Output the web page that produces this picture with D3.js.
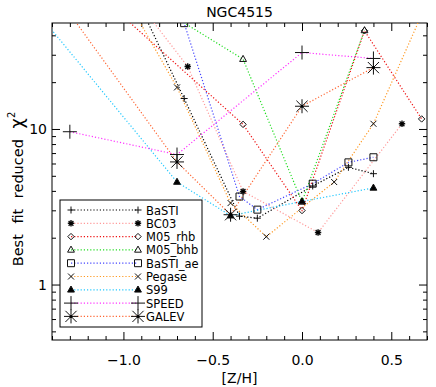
<!DOCTYPE html>
<html>
<head>
<meta charset="utf-8">
<script src="https://cdn.jsdelivr.net/npm/d3@7"></script>
<style>
  body { margin: 0; background: #fff; }
  svg text { font-family: "DejaVu Sans", sans-serif; fill: #000; }
</style>
</head>
<body>
<div id="chart"></div>
<script>
// --- Data (x = [Z/H], y = best fit reduced chi^2) ---
const seriesNames = ["BaSTI", "BC03", "M05_rhb", "M05_bhb", "BaSTI_ae", "Pegase", "S99", "SPEED", "GALEV"];
const seriesColors = ["#000000", "#ff9a9a", "#ee1111", "#22dd22", "#4444ff", "#ff9922", "#22c8ff", "#ff33ff", "#ff6633"];
const seriesSymbols = ["plus", "asterisk", "diamond", "triangle", "square", "cross", "filledTriangle", "bigPlus", "bigAsterisk"];

const bastiZ   = [-0.96, -0.66, -0.35, -0.25, 0.06, 0.26, 0.40];
const bastiChi = [83, 15.7, 2.75, 2.67, 4.3, 5.67, 5.16];
const bc03Z    = [-1.65, -0.64, -0.33, 0.09, 0.56];
const bc03Chi  = [800, 25.2, 3.97, 2.16, 10.8];
const m05rZ    = [-1.35, -0.33, 0.0, 0.35, 0.67];
const m05rChi  = [121, 10.7, 2.99, 42.8, 11.6];
const m05bZ    = [-1.35, -0.33, 0.0, 0.35];
const m05bChi  = [148, 28.1, 3.4, 43];
const bastiAeZ   = [-0.96, -0.66, -0.35, -0.25, 0.06, 0.26, 0.40];
const bastiAeChi = [150, 47.9, 3.68, 3.03, 4.45, 6.1, 6.58];
const pegaseZ   = [-1.7, -0.7, -0.4, -0.2, 0.18, 0.4, 0.7];
const pegaseChi = [1900, 18.5, 3.34, 2.03, 4.56, 10.8, 65];
const s99Z   = [-1.7, -0.7, -0.4, 0.0, 0.4];
const s99Chi = [113, 4.56, 2.77, 3.42, 4.18];
const speedZ   = [-1.3, -0.7, 0.0, 0.4];
const speedChi = [9.6, 6.85, 31, 28.4];
const galevZ   = [-1.7, -0.7, -0.4, 0.0, 0.4];
const galevChi = [237, 6.14, 2.81, 14.0, 24.8];

const seriesZ = [bastiZ, bc03Z, m05rZ, m05bZ, bastiAeZ, pegaseZ, s99Z, speedZ, galevZ];
const seriesChi = [bastiChi, bc03Chi, m05rChi, m05bChi, bastiAeChi, pegaseChi, s99Chi, speedChi, galevChi];

const xMajorTicks = [-1.0, -0.5, 0.0, 0.5];
const xTickLabels = ["\u22121.0", "\u22120.5", "0.0", "0.5"];
const yMajorTicks = [1, 10];
const yTickLabels = ["1", "10"];

// --- Layout ---
const W = 436, H = 387;
const plot = { left: 52, right: 427, top: 23, bottom: 340 };

const x = d3.scaleLinear().domain([-1.4, 0.7]).range([plot.left, plot.right]);
const y = d3.scaleLog().domain([0.44, 48]).range([plot.bottom, plot.top]);

const svg = d3.select("#chart").append("svg")
    .attr("width", W)
    .attr("height", H);

svg.append("clipPath").attr("id", "plotClip")
    .append("rect")
    .attr("x", plot.left).attr("y", plot.top)
    .attr("width", plot.right - plot.left)
    .attr("height", plot.bottom - plot.top);

// minor tick values
const xMinor = d3.range(-14, 8).map(d => d / 10).filter(d => !xMajorTicks.some(m => Math.abs(m - d) < 1e-9));
const yMinor = [];
[0.1, 1, 10].forEach(dec => {
    for (let k = 2; k <= 9; k++) {
        const v = k * dec;
        if (v >= 0.44 && v <= 48) yMinor.push(v);
    }
});

// --- Axes (ticks inward on all four sides) ---
function addAxis(axisFn, scale, tx, ty, values, size, labels) {
    const g = svg.append("g")
        .attr("transform", `translate(${tx},${ty})`)
        .call(axisFn(scale).tickValues(values).tickSize(size).tickSizeOuter(0)
            .tickFormat(labels ? (d, i) => labels[i] : () => ""));
    g.select(".domain").remove();
    g.selectAll(".tick line").attr("stroke", "#000").attr("stroke-width", 1);
    return g;
}

addAxis(d3.axisBottom, x, 0, plot.bottom, xMajorTicks, -8, xTickLabels)
    .selectAll("text").attr("font-size", 14).attr("y", 15);
addAxis(d3.axisBottom, x, 0, plot.bottom, xMinor, -4, null);
addAxis(d3.axisTop, x, 0, plot.top, xMajorTicks, -8, null);
addAxis(d3.axisTop, x, 0, plot.top, xMinor, -4, null);

addAxis(d3.axisLeft, y, plot.left, 0, yMajorTicks, -8, yTickLabels)
    .selectAll("text").attr("font-size", 14).attr("x", -5);
addAxis(d3.axisLeft, y, plot.left, 0, yMinor, -4, null);
addAxis(d3.axisRight, y, plot.right, 0, yMajorTicks, -8, null);
addAxis(d3.axisRight, y, plot.right, 0, yMinor, -4, null);

svg.selectAll(".tick text").attr("fill", "#000").attr("font-family", "DejaVu Sans, sans-serif");

// frame
svg.append("rect")
    .attr("x", plot.left).attr("y", plot.top)
    .attr("width", plot.right - plot.left)
    .attr("height", plot.bottom - plot.top)
    .attr("fill", "none").attr("stroke", "#000").attr("stroke-width", 1);

// --- Titles ---
svg.append("text")
    .attr("x", (plot.left + plot.right) / 2).attr("y", 17)
    .attr("text-anchor", "middle").attr("font-size", 14)
    .text("NGC4515");

svg.append("text")
    .attr("x", (plot.left + plot.right) / 2).attr("y", 383)
    .attr("text-anchor", "middle").attr("font-size", 14)
    .text("[Z/H]");

const yLabel = svg.append("text")
    .attr("transform", "translate(23,189) rotate(-90)")
    .attr("text-anchor", "middle").attr("font-size", 14.5)
    .attr("word-spacing", 6);
yLabel.append("tspan").text("Best fit reduced ");
yLabel.append("tspan").attr("font-size", 18).text("\u03c7");
yLabel.append("tspan").attr("font-size", 10).attr("dy", -8).text("2");

// --- Symbols ---
function symbolPath(kind) {
    let s;
    switch (kind) {
        case "plus": s = 3.5; return `M${-s},0H${s}M0,${-s}V${s}`;
        case "bigPlus": s = 7; return `M${-s},0H${s}M0,${-s}V${s}`;
        case "asterisk": {
            s = 3.2; const d = s * 0.75;
            return `M${-s},0H${s}M0,${-s}V${s}M${-d},${-d}L${d},${d}M${-d},${d}L${d},${-d}`;
        }
        case "bigAsterisk": {
            s = 7; const d = s * 0.8;
            return `M${-s},0H${s}M0,${-s}V${s}M${-d},${-d}L${d},${d}M${-d},${d}L${d},${-d}`;
        }
        case "diamond": s = 3.2; return `M0,${-s}L${s},0L0,${s}L${-s},0Z`;
        case "triangle":
        case "filledTriangle": s = 3.8; return `M0,${-s}L${s * 0.9},${s * 0.6}L${-s * 0.9},${s * 0.6}Z`;
        case "square": s = 3.5; return `M${-s},${-s}H${s}V${s}H${-s}Z`;
        case "cross": s = 3; return `M${-s},${-s}L${s},${s}M${-s},${s}L${s},${-s}`;
    }
}

function drawSymbol(g, kind, px, py) {
    const p = g.append("path")
        .attr("d", symbolPath(kind))
        .attr("transform", `translate(${px},${py})`)
        .attr("stroke", "#111")
        .attr("stroke-width", kind === "asterisk" ? 1.4 : 1)
        .attr("fill", kind === "filledTriangle" ? "#000" : "none");
    if (kind === "asterisk" || kind === "bigAsterisk") {
        g.append("circle").attr("cx", px).attr("cy", py)
            .attr("r", kind === "asterisk" ? 1.6 : 1.5).attr("fill", "#000");
    }
    return p;
}

// --- Series lines and markers ---
const line = d3.line().x(d => x(d[0])).y(d => y(d[1]));
const plotG = svg.append("g").attr("clip-path", "url(#plotClip)");

seriesNames.forEach((name, i) => {
    const pts = seriesZ[i].map((z, k) => [z, seriesChi[i][k]]);
    plotG.append("path")
        .datum(pts)
        .attr("d", line)
        .attr("fill", "none")
        .attr("stroke", seriesColors[i])
        .attr("stroke-width", 1.2)
        .attr("stroke-dasharray", "1.2,2");
});
seriesNames.forEach((name, i) => {
    seriesZ[i].forEach((z, k) => {
        drawSymbol(plotG, seriesSymbols[i], x(z), y(seriesChi[i][k]));
    });
});

// --- Legend ---
const legend = svg.append("g");
legend.append("rect")
    .attr("x", 60).attr("y", 200).attr("width", 142).attr("height", 127)
    .attr("fill", "#fff").attr("stroke", "#000").attr("stroke-width", 1);

seriesNames.forEach((name, i) => {
    const ly = 210 + i * 13.3;
    legend.append("line")
        .attr("x1", 71).attr("x2", 138).attr("y1", ly).attr("y2", ly)
        .attr("stroke", seriesColors[i]).attr("stroke-width", 1.2)
        .attr("stroke-dasharray", "1.2,2");
    drawSymbol(legend, seriesSymbols[i], 71, ly);
    drawSymbol(legend, seriesSymbols[i], 138, ly);
    legend.append("text")
        .attr("x", 146).attr("y", ly + 4.5)
        .attr("font-size", 11.5)
        .text(name);
});
</script>
</body>
</html>
